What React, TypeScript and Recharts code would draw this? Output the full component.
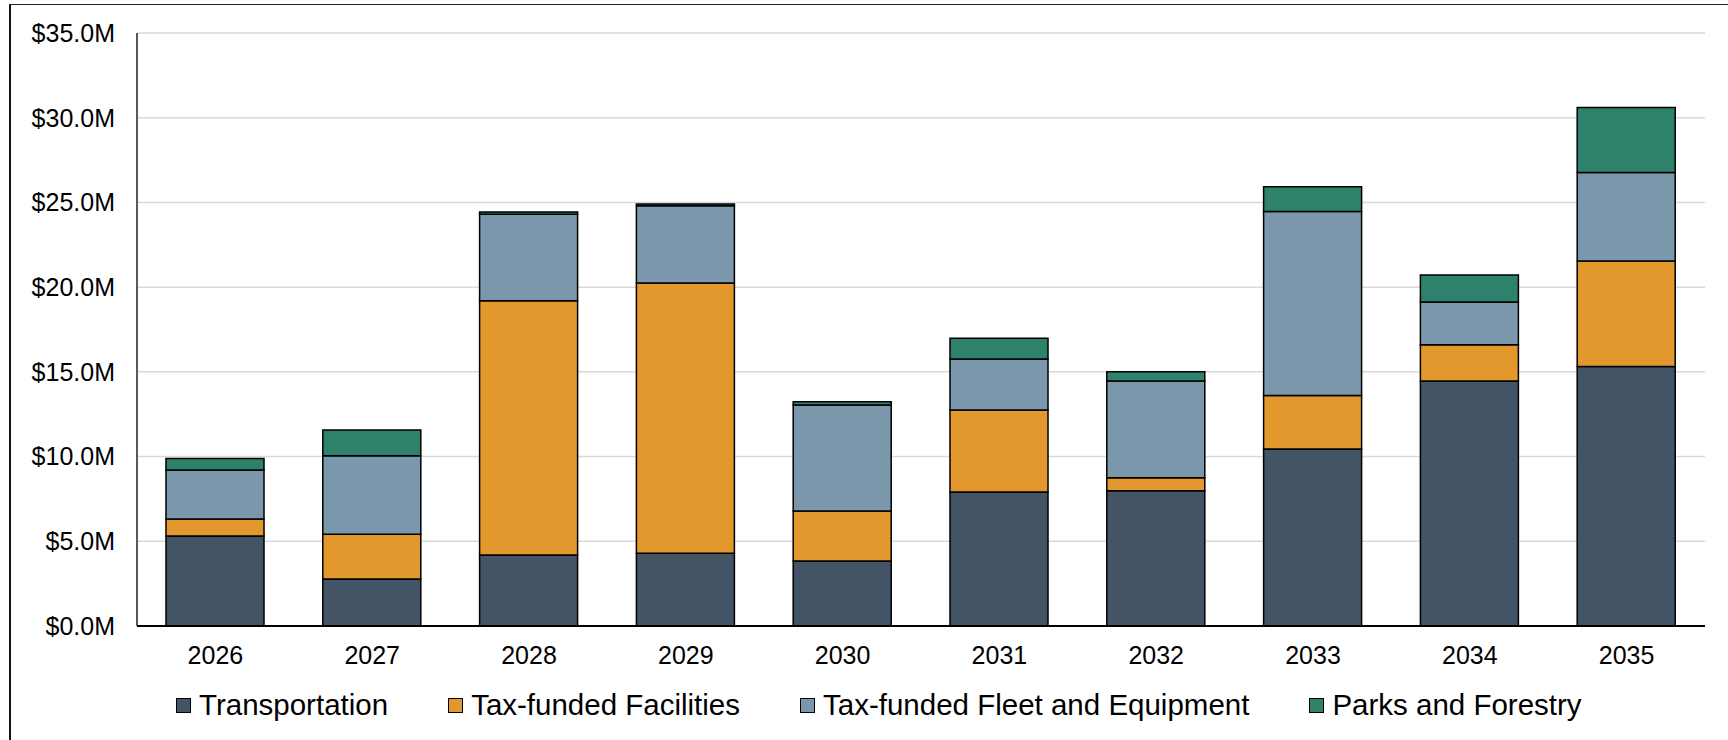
import { BarChart, Bar, XAxis, YAxis, CartesianGrid, Legend } from 'recharts';

// values in $M
const years = ['2026', '2027', '2028', '2029', '2030', '2031', '2032', '2033', '2034', '2035'];
const transportation = [5.31, 2.77, 4.19, 4.29, 3.84, 7.91, 7.99, 10.45, 14.46, 15.31];
const facilities = [1.01, 2.64, 15.0, 15.96, 2.95, 4.84, 0.76, 3.15, 2.14, 6.24];
const fleet = [2.89, 4.64, 5.11, 4.55, 6.26, 3.01, 5.71, 10.86, 2.53, 5.21];
const parks = [0.67, 1.52, 0.14, 0.1, 0.19, 1.22, 0.55, 1.47, 1.59, 3.84];
const yTicks = [0, 5, 10, 15, 20, 25, 30, 35];
const legendOrder = ['transportation', 'facilities', 'fleet', 'parks'];

const data = years.map((year, i) => ({
  year,
  transportation: transportation[i],
  facilities: facilities[i],
  fleet: fleet[i],
  parks: parks[i],
}));

const font = '"Liberation Sans", Arial, sans-serif';

const renderLegend = (props: any) => {
  const items = [...(props.payload || [])].sort(
    (a: any, b: any) => legendOrder.indexOf(a.dataKey) - legendOrder.indexOf(b.dataKey)
  );
  return (
    <div style={{ display: 'flex', gap: 60, fontSize: 29.5, fontFamily: font, color: '#000', whiteSpace: 'nowrap' }}>
      {items.map((entry: any) => (
        <div key={entry.value} style={{ display: 'flex', alignItems: 'center' }}>
          <span
            style={{
              display: 'inline-block',
              width: 15,
              height: 15,
              boxSizing: 'border-box',
              background: entry.color,
              border: '1.5px solid #000',
              marginRight: 8,
            }}
          />
          <span>{entry.value}</span>
        </div>
      ))}
    </div>
  );
};

export default function App() {
  return (
    <div style={{ position: 'absolute', left: 0, top: 0, width: 1728, height: 740, background: '#fff', overflow: 'hidden' }}>
      {/* frame around the chart, right/bottom edges fall outside the shot */}
      <div
        style={{
          position: 'absolute',
          left: 9,
          top: 4,
          width: 1730,
          height: 750,
          borderLeft: '2px solid #111',
          borderTop: '1.5px solid #222',
        }}
      />
      <div style={{ position: 'absolute', left: 0, top: 0 }}>
        <BarChart
          width={1728}
          height={740}
          data={data}
          margin={{ top: 33, right: 23, left: 0, bottom: 74 }}
          barSize={98}
        >
          <CartesianGrid vertical={false} stroke="#d9d9d9" strokeWidth={1.5} />
          <XAxis
            dataKey="year"
            height={40}
            tickLine={false}
            axisLine={{ stroke: '#000', strokeWidth: 2 }}
            tickMargin={14}
            tick={{ fill: '#000', fontSize: 25, fontFamily: font }}
          />
          <YAxis
            width={137}
            domain={[0, 35]}
            ticks={yTicks}
            tickLine={false}
            tickMargin={16}
            axisLine={{ stroke: '#222', strokeWidth: 1.5 }}
            tickFormatter={(v: number) => `$${v.toFixed(1)}M`}
            tick={{ fill: '#000', fontSize: 25, fontFamily: font }}
          />
          <Legend
            content={renderLegend}
            layout="horizontal"
            align="center"
            verticalAlign="middle"
            wrapperStyle={{ left: 176, top: 688, width: 'auto' }}
          />
          <Bar dataKey="transportation" name="Transportation" stackId="a" fill="#435466" stroke="#000" strokeWidth={1.5} isAnimationActive={false} />
          <Bar dataKey="facilities" name="Tax-funded Facilities" stackId="a" fill="#E3982E" stroke="#000" strokeWidth={1.5} isAnimationActive={false} />
          <Bar dataKey="fleet" name="Tax-funded Fleet and Equipment" stackId="a" fill="#7B97AB" stroke="#000" strokeWidth={1.5} isAnimationActive={false} />
          <Bar dataKey="parks" name="Parks and Forestry" stackId="a" fill="#2E826C" stroke="#000" strokeWidth={1.5} isAnimationActive={false} />
        </BarChart>
      </div>
    </div>
  );
}
